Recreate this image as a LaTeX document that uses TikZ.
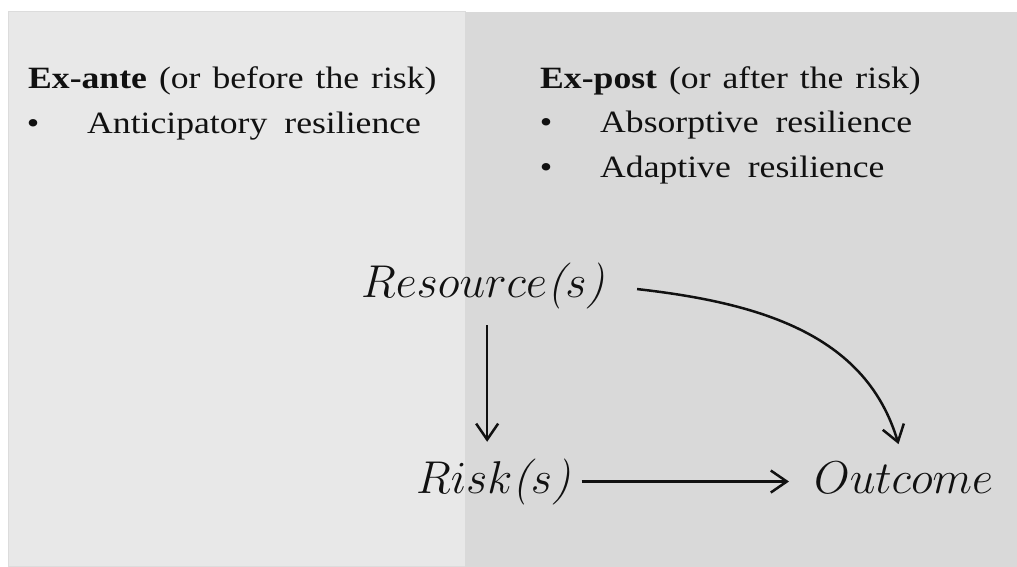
\documentclass[tikz,border=0pt]{standalone}
\usepackage{graphicx}
\usepackage[no-math]{fontspec}
\setmainfont{Liberation Serif}[FakeStretch=1.15]
\newfontfamily\lmrom{Latin Modern Roman}
\usetikzlibrary{arrows.meta}
\definecolor{leftbg}{HTML}{E8E8E8}
\definecolor{rightbg}{HTML}{D9D9D9}
\definecolor{edgegray}{HTML}{DCDCDC}
\definecolor{ink}{HTML}{111111}
\newcommand{\bigmath}[1]{\scalebox{1.849}{$#1$}}
\newcommand{\ip}[1]{\mbox{\lmrom\itshape #1}}
\newcommand{\hdfont}{\fontsize{31}{36}\selectfont\spaceskip 12pt\relax}
\newcommand{\itfont}{\fontsize{31}{36}\selectfont\spaceskip 17pt\relax}
\tikzset{
  hd/.style={anchor=base west, inner sep=0pt, text=ink, font=\hdfont},
  itemtext/.style={anchor=base west, inner sep=0pt, text=ink, font=\itfont},
  bul/.style={anchor=base, inner sep=0pt, text=ink, font=\fontsize{31}{36}\selectfont},
  mathlbl/.style={anchor=base west, inner sep=0pt, text=ink, font=\fontsize{24.88}{30}\selectfont},
  arr/.style={-{Straight Barb[length=16pt,width=22pt]}, line width=2.5pt, draw=ink},
}
\begin{document}
\begin{tikzpicture}[x=1pt,y=-1pt]
\useasboundingbox (0,0) rectangle (1017,567);
\fill[white] (0,0) rectangle (1017,567);
\fill[leftbg, draw=edgegray, line width=1pt] (8,12) rectangle (465,566);
\fill[rightbg] (465,12) rectangle (1017,567);
\node[hd] (h1) at (28,89) {\textbf{Ex-ante} (or before the risk)};
\node[bul] (b1) at (33,134) {•};
\node[itemtext] (t1) at (87,134) {Anticipatory resilience};
\node[hd] (h2) at (540,89) {\textbf{Ex-post} (or after the risk)};
\node[bul] (b2) at (546,133) {•};
\node[itemtext] (t2) at (600,133) {Absorptive resilience};
\node[bul] (b3) at (546,177) {•};
\node[itemtext] (t3) at (600,177) {Adaptive resilience};
\node[mathlbl] (res) at (361,297) {\bigmath{Resource\ip{(}s\ip{)}}};
\node[mathlbl] (risk) at (416,493) {\bigmath{Risk\ip{(}s\ip{)}}};
\node[mathlbl] (out) at (814,493) {\bigmath{Outcome}};
\draw[arr, shorten <=16.5pt, shorten >=16.5pt] ([xshift=4pt]res.south) -- ([xshift=4pt]res.south |- risk.north);
\draw[arr, shorten <=11pt, shorten >=25pt] (risk.east) -- (risk.east -| out.west);
\draw[arr, shorten <=32pt, shorten >=18pt] (res.east) .. controls +(161,18) and +(-37,-124) .. (out.north);
\end{tikzpicture}
\end{document}
